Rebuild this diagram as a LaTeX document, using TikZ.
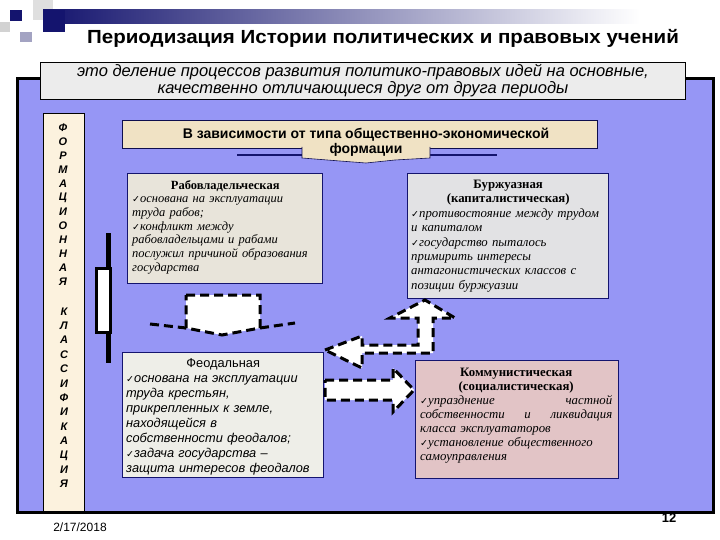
\documentclass[tikz,border=0pt]{standalone}
\usepackage{fontspec}
\setmainfont{Liberation Serif}
\setsansfont{Liberation Sans}
\newfontfamily\symf{DejaVu Sans}
\newcommand{\ck}{{\symf\fontsize{9.5}{9}\selectfont ✓}}
\newcommand{\ctr}[1]{\makebox[\linewidth]{#1}}
\definecolor{panel}{RGB}{150,150,245}
\definecolor{navy}{RGB}{20,20,110}
\definecolor{parch}{RGB}{240,226,196}
\definecolor{cream}{RGB}{252,242,222}
\definecolor{rabfill}{RGB}{232,228,218}
\definecolor{burfill}{RGB}{226,226,228}
\definecolor{feofill}{RGB}{238,238,232}
\definecolor{komfill}{RGB}{226,196,198}
\definecolor{deffill}{RGB}{236,236,236}
\tikzset{
  card/.style={draw=navy, line width=1.2pt, anchor=north west, inner sep=0pt},
  cardtext/.style={anchor=north west, inner sep=0pt, align=left},
  dasharrow/.style={draw=black, fill=white, line width=3pt, dash pattern=on 9pt off 5pt, line join=miter},
  vletter/.style={font=\sffamily\bfseries\itshape\fontsize{11}{11}\selectfont, inner sep=0pt}
}
\begin{document}
\begin{tikzpicture}[x=1pt,y=-1pt]
\useasboundingbox (0,0) rectangle (720,540);
\fill[white] (0,0) rectangle (720,540);
% top decoration
\fill[gray!25] (33,0) rectangle (53,20);
\fill[gray!35] (0,22) rectangle (10,32);
\fill[blue!20!gray!60] (20,32) rectangle (32,42);
\shade[left color=navy, right color=white] (43,10) rectangle (640,24);
\fill[navy] (43,10) rectangle (65,32);
\fill[navy] (10,10) rectangle (22,21);
% title
\node[font=\sffamily\bfseries\fontsize{19}{19}\selectfont, inner sep=0pt] (title) at (383,38) {\scalebox{1.08}[1]{Периодизация Истории политических и правовых учений}};
% panel
\node[draw=black, line width=3pt, fill=panel, anchor=north west, minimum width=696pt, minimum height=434pt, inner sep=0pt] (panel) at (16,77) {};
% definition box
\node[draw=black, line width=1pt, fill=deffill, anchor=north west, minimum width=645pt, minimum height=37pt, inner sep=0pt] (defbox) at (40,62) {};
\node[font=\sffamily\itshape\fontsize{16.5}{17}\selectfont, align=center, inner sep=0pt] (deftext) at (defbox.center) {это деление процессов развития политико-правовых идей на основные,\\качественно отличающиеся друг от друга периоды};
% left vertical box
\node[draw=black, line width=0.8pt, fill=cream, anchor=north west, minimum width=41pt, minimum height=398pt, inner sep=0pt] (vbox) at (43,113) {};
\foreach \l [count=\i] in {Ф,О,Р,М,А,Ц,И,О,Н,Н,А,Я}
  \node[vletter] (va\i) at (63,114+14*\i) {\l};
\foreach \l [count=\i] in {К,Л,А,С,С,И,Ф,И,К,А,Ц,И,Я}
  \node[vletter] (vb\i) at (64,297+14.4*\i) {\l};
% header scroll
\draw[navy, line width=1.2pt] (237,155) -- (302,155);
\draw[navy, line width=1.2pt] (430,155) -- (497,155);
\node[draw=navy!70!black, line width=0.6pt, fill=parch, anchor=north west, minimum width=475pt, minimum height=28pt, inner sep=0pt] (band) at (122,120) {};
\draw[navy!70!black, line width=0.6pt, fill=parch] (302,147) -- (302,158) -- (340,161) -- (366,163) -- (395,160) -- (430,158) -- (430,147);
\node[font=\sffamily\bfseries\fontsize{14}{15}\selectfont, align=center, inner sep=0pt] (head) at (366,142) {В зависимости от типа общественно-экономической\\формации};
% Rab
\node[card, fill=rabfill, minimum width=195pt, minimum height=110pt] (rab) at (127,173) {};
\node[cardtext, text width=186pt, font=\itshape\fontsize{12.5}{13.7}\selectfont] (rabt) at (132,180) {\ctr{\textbf{\upshape Рабовладельческая}}\\\ck основана на эксплуатации\\труда рабов;\\\ck конфликт между\\рабовладельцами и рабами\\послужил причиной образования\\государства};
% Burzh
\node[card, fill=burfill, minimum width=201pt, minimum height=125pt] (bur) at (407,173) {};
\node[cardtext, text width=194pt, font=\itshape\fontsize{12.8}{14.4}\selectfont, align=left] (burt) at (411,180) {\ctr{\textbf{\upshape Буржуазная}}\\\ctr{\textbf{\upshape (капиталистическая)}}\\\ck противостояние между трудом\\и капиталом\\\ck государство пыталось\\примирить интересы\\антагонистических классов с\\позиции буржуазии};
% Feod
\node[card, fill=feofill, minimum width=201pt, minimum height=125pt] (feo) at (122,352) {};
\node[cardtext, text width=194pt, font=\sffamily\itshape\fontsize{12.8}{15}\selectfont] (feot) at (126,358) {\ctr{\upshape Феодальная}\\\ck основана на эксплуатации\\труда крестьян,\\прикрепленных к земле,\\находящейся в\\собственности феодалов;\\\ck задача государства –\\защита интересов феодалов};
% Komm
\node[card, fill=komfill, minimum width=203pt, minimum height=118pt] (kom) at (415,360) {};
\node[cardtext, text width=192pt, font=\itshape\fontsize{12.8}{14}\selectfont] (komt) at (420,368) {\ctr{\textbf{\upshape Коммунистическая}}\\\ctr{\textbf{\upshape (социалистическая)}}\\\makebox[\linewidth][s]{\ck упразднение \hfill частной}\\\makebox[\linewidth][s]{собственности \hfill и \hfill ликвидация}\\класса эксплуататоров\\\ck установление общественного\\самоуправления};
% left vertical arrow-like shape
\coordinate (lv1) at (108,233);
\coordinate (lv2) at (108,363);
\draw[line width=5pt] (lv1) -- (lv2);
\draw[fill=white, line width=3pt] (96,268) rectangle (110,332);
% arrow between Rab and Feod
\coordinate (w1) at (150,324);
\coordinate (w2) at (295,323);
\draw[dasharrow] (186,295) -- (260,295) -- (260,328) -- (222,335) -- (186,328) -- cycle;
\draw[line width=3pt, dash pattern=on 9pt off 5pt] (w1) -- (186,328);
\draw[line width=3pt, dash pattern=on 9pt off 5pt] (260,328) -- (w2);
% bent double arrow
\draw[dasharrow] (325,350) -- (362,336) -- (362,345) -- (418,345) -- (418,318) -- (390,318) -- (425,300) -- (455,318) -- (433,318) -- (433,353) -- (362,353) -- (362,368) -- cycle;
% arrow Feod -> Komm
\draw[dasharrow] (325,380) -- (393,380) -- (393,368) -- (414,390) -- (393,412) -- (393,400) -- (325,400) -- cycle;
% footer
\node[font=\sffamily\fontsize{12}{12}\selectfont, inner sep=0pt] (date) at (80,527) {2/17/2018};
\node[font=\sffamily\bfseries\fontsize{13}{13}\selectfont, inner sep=0pt] (num) at (669,518) {12};
\end{tikzpicture}
\end{document}
